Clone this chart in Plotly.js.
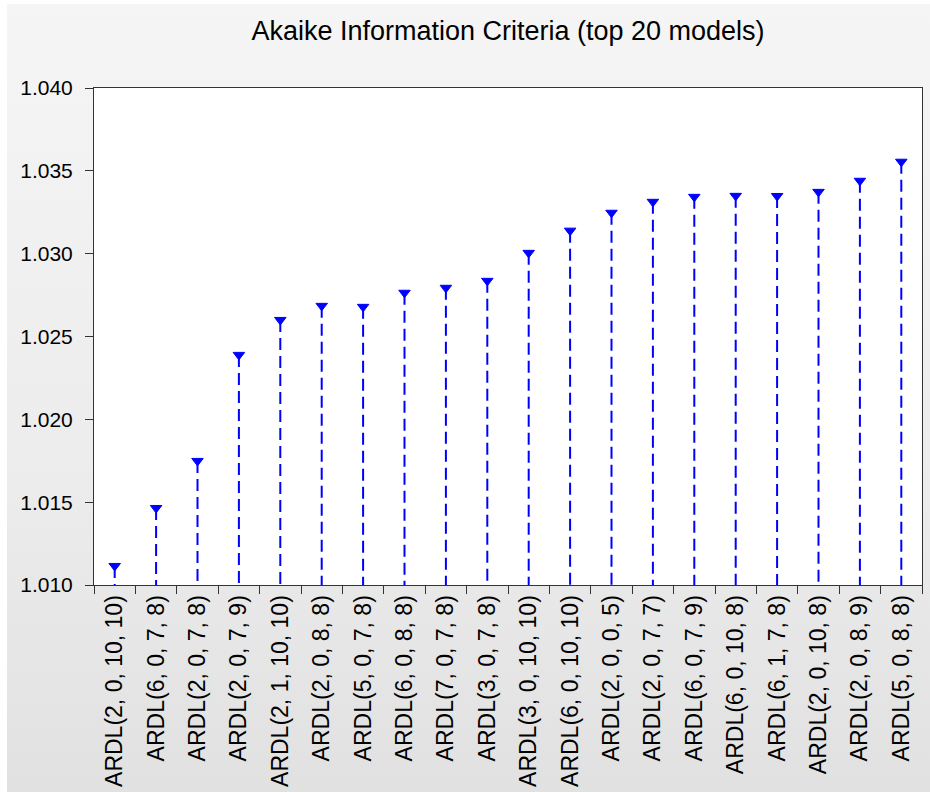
<!DOCTYPE html>
<html>
<head>
<meta charset="utf-8">
<script src="https://cdn.plot.ly/plotly-3.0.1.min.js"></script>
<style>
  html, body { margin: 0; padding: 0; background: #ffffff; }
  #wrap { position: absolute; left: 7px; top: 4px; width: 923px; height: 788px;
          background: linear-gradient(to bottom, #f5f5f5 0%, #ececec 60%, #e1e1e1 100%); }
  #chart { position: absolute; left: -7px; top: -4px; width: 930px; height: 792px; }
</style>
</head>
<body>
<div id="wrap"><div id="chart"></div></div>
<script>
// Data
const models = [
  "ARDL(2, 0, 10, 10)", "ARDL(6, 0, 7, 8)", "ARDL(2, 0, 7, 8)", "ARDL(2, 0, 7, 9)",
  "ARDL(2, 1, 10, 10)", "ARDL(2, 0, 8, 8)", "ARDL(5, 0, 7, 8)", "ARDL(6, 0, 8, 8)",
  "ARDL(7, 0, 7, 8)", "ARDL(3, 0, 7, 8)", "ARDL(3, 0, 10, 10)", "ARDL(6, 0, 10, 10)",
  "ARDL(2, 0, 0, 5)", "ARDL(2, 0, 7, 7)", "ARDL(6, 0, 7, 9)", "ARDL(6, 0, 10, 8)",
  "ARDL(6, 1, 7, 8)", "ARDL(2, 0, 10, 8)", "ARDL(2, 0, 8, 9)", "ARDL(5, 0, 8, 8)"
];
const aicValues = [
  1.01115, 1.01465, 1.01749, 1.02389, 1.02600, 1.02685, 1.02679, 1.02764,
  1.02794, 1.02836, 1.03005, 1.03139, 1.03247, 1.03313, 1.03343, 1.03349,
  1.03348, 1.03373, 1.03440, 1.03555
];
const yTickVals = [1.010, 1.015, 1.020, 1.025, 1.030, 1.035, 1.040];
const yMin = 1.010, yMax = 1.040;
const chartTitle = "Akaike Information Criteria (top 20 models)";

// stems (from value down to axis floor), separated by nulls
const stemX = [], stemY = [];
models.forEach((m, i) => {
  stemX.push(m, m, null);
  stemY.push(aicValues[i], yMin, null);
});

const FONT = "Liberation Sans, Arial, sans-serif";

const traces = [
  {
    type: "scatter", mode: "lines", x: stemX, y: stemY,
    line: { color: "#0000ff", width: 2, dash: "12px,6px" },
    hoverinfo: "skip", showlegend: false, connectgaps: false
  },
  {
    type: "scatter", mode: "markers", x: models, y: aicValues,
    marker: { symbol: "triangle-down", size: 10, color: "#0000ff",
              line: { color: "#0000ff", width: 1 } },
    showlegend: false
  }
];

const layout = {
  width: 930, height: 792,
  paper_bgcolor: "rgba(0,0,0,0)",
  plot_bgcolor: "#ffffff",
  margin: { l: 94, r: 8, t: 88, b: 207 },
  title: {
    text: chartTitle, x: 0.5, xref: "paper", xanchor: "center",
    y: 0.962, yref: "container", yanchor: "middle",
    font: { family: FONT, size: 27, color: "#000000" }
  },
  xaxis: {
    type: "category", range: [-0.5, models.length - 0.5],
    tickson: "boundaries", ticks: "outside", ticklen: 8, tickcolor: "#333",
    tickangle: -90, showgrid: false, zeroline: false,
    showline: true, linecolor: "#333", linewidth: 1, mirror: true,
    tickfont: { family: FONT, size: 23, color: "#000" }
  },
  yaxis: {
    range: [yMin, yMax], tickvals: yTickVals, tickformat: ".3f",
    ticks: "outside", ticklen: 8, tickcolor: "#333", ticklabelstandoff: 8,
    showgrid: false, zeroline: false,
    showline: true, linecolor: "#333", linewidth: 1, mirror: true,
    tickfont: { family: FONT, size: 21, color: "#000" }
  }
};

Plotly.newPlot("chart", traces, layout, { displayModeBar: false, staticPlot: true });
</script>
</body>
</html>
